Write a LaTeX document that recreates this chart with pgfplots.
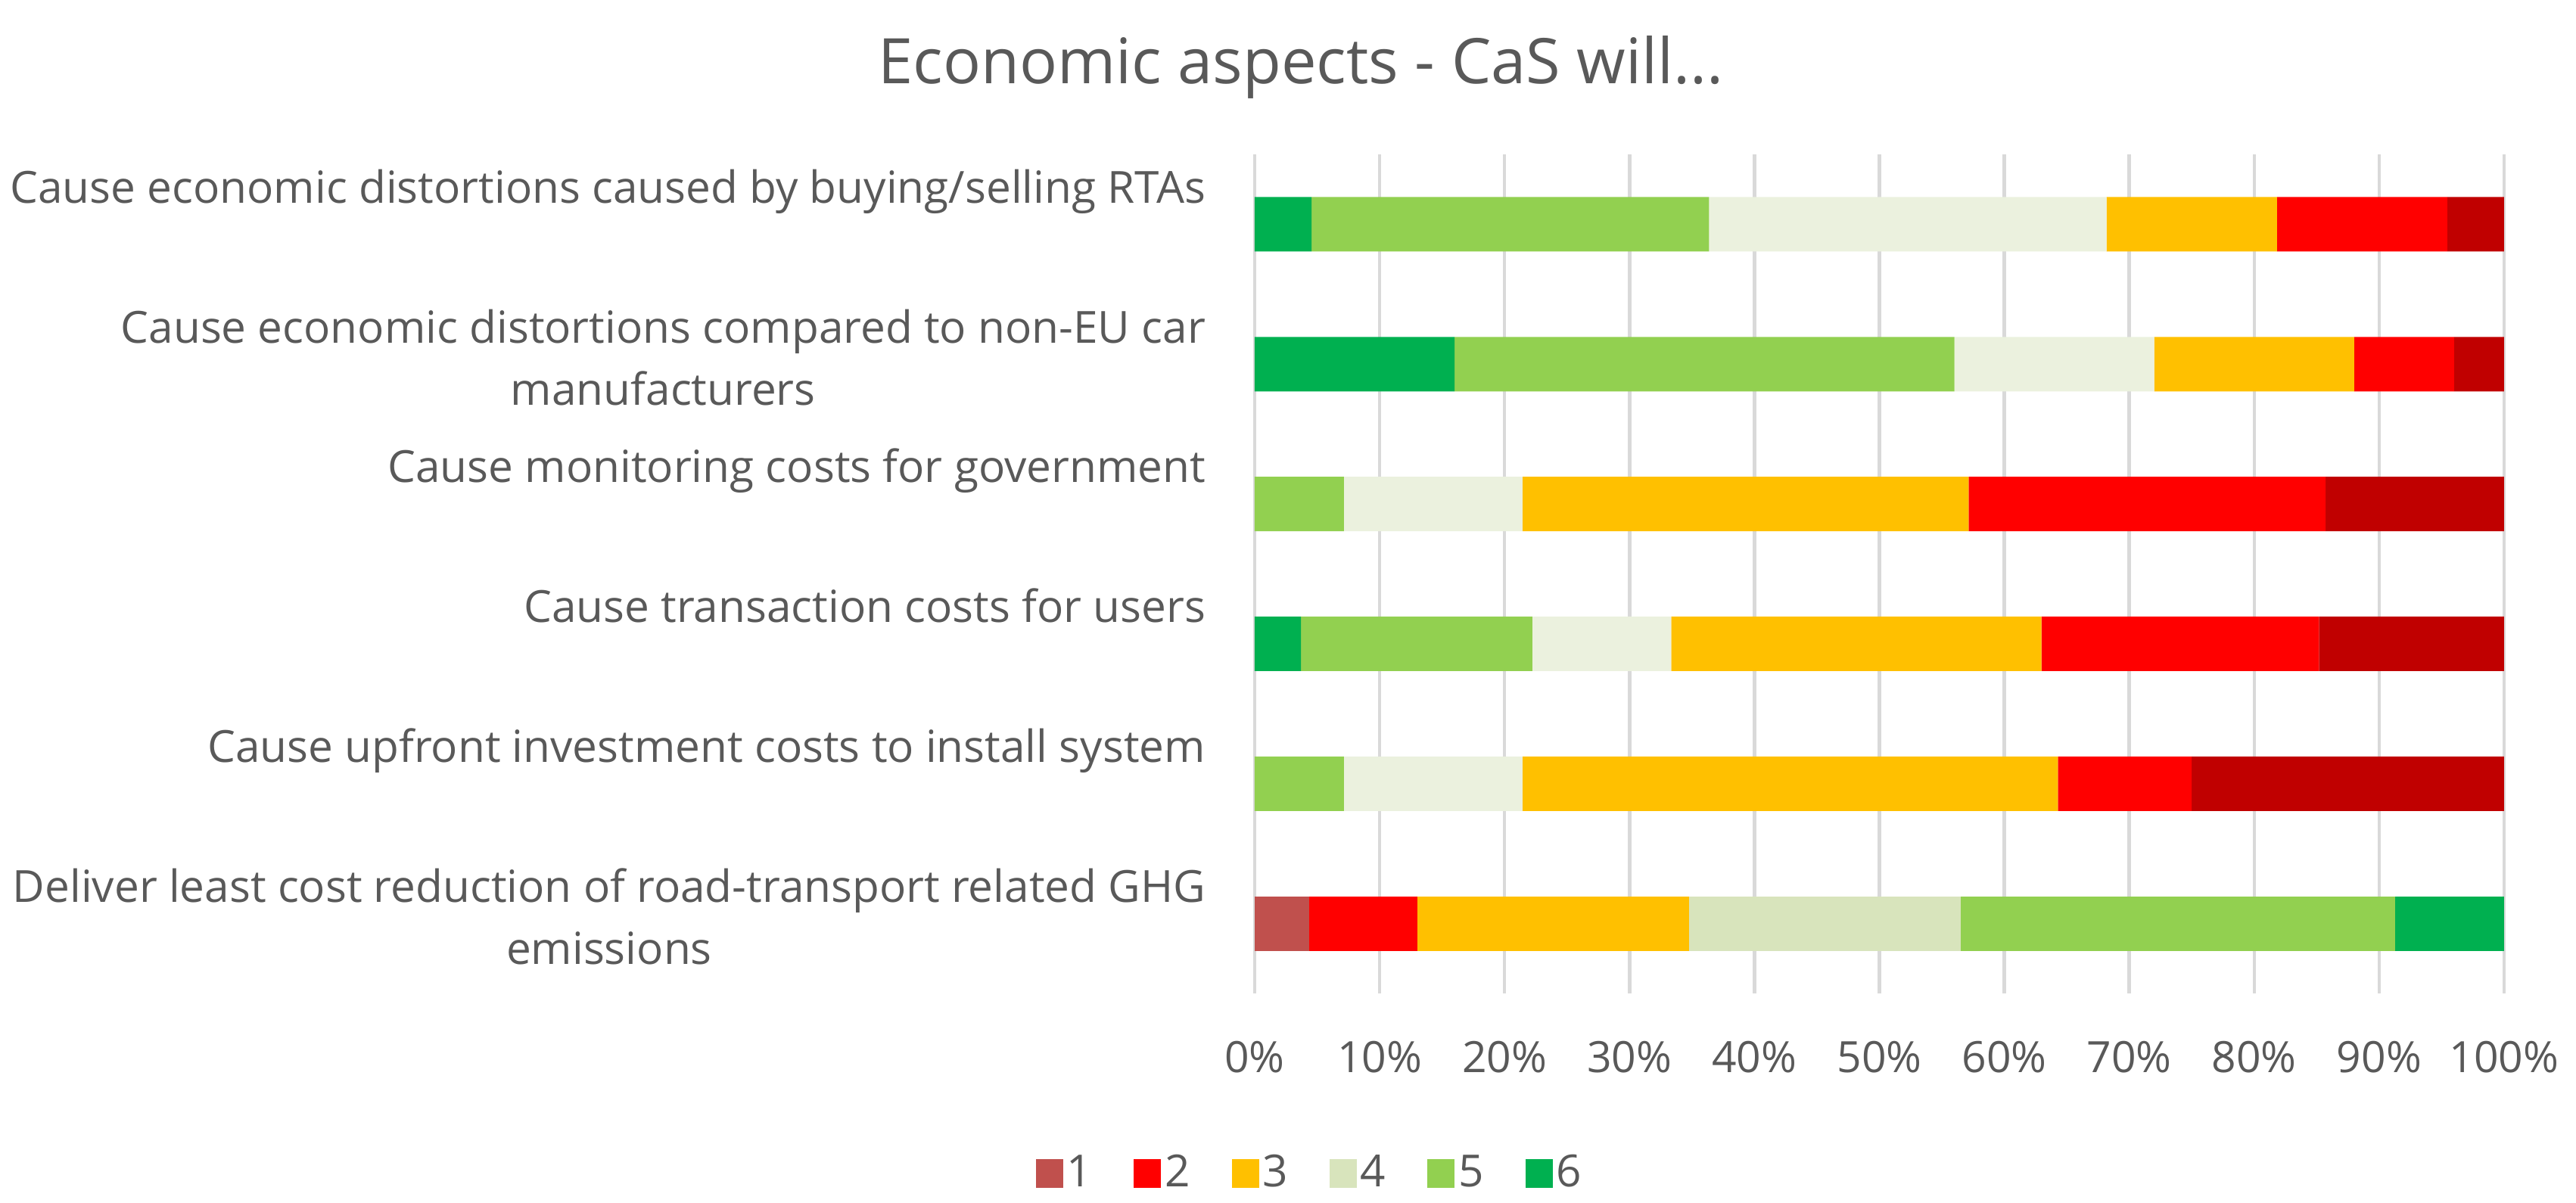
\documentclass[border=0pt]{standalone}
\usepackage{pgfplots}
\pgfplotsset{compat=1.18}
\usepackage{fontspec}
\setmainfont{Open Sans}
\definecolor{txt}{HTML}{595959}
\definecolor{gridc}{HTML}{D9D9D9}
\definecolor{cdg}{HTML}{00B050}
\definecolor{clg}{HTML}{92D050}
\definecolor{cpale}{HTML}{EBF1DE}
\definecolor{cpaleb}{HTML}{D8E4BC}
\definecolor{cor}{HTML}{FFC000}
\definecolor{cred}{HTML}{FF0000}
\definecolor{cdr}{HTML}{C00000}
\definecolor{cbr}{HTML}{C0504D}
\begin{document}
\begin{tikzpicture}
\path[use as bounding box] (0,0) rectangle (680.8pt,318pt);
\node[anchor=base, text=txt, font={\fontsize{16.6}{20}\selectfont}, inner sep=0pt] at (343.8pt,295.9pt) {Economic aspects - CaS will...};
\begin{axis}[
  at={(331.6pt,55.4pt)}, anchor=south west,
  scale only axis, width=330.2pt, height=221.8pt,
  xbar stacked, bar width=14.4pt,
  xmin=0, xmax=100, ymin=-0.5, ymax=5.5, y dir=reverse,
  xtick={0,10,...,100},
  xticklabels={0\%,10\%,20\%,30\%,40\%,50\%,60\%,70\%,80\%,90\%,100\%},
  ytick={0,1,2,3,4,5},
  yticklabels={
    {\strut Cause economic distortions caused by buying/selling RTAs\\\strut},
    {\strut Cause economic distortions compared to non-EU car\\\strut manufacturers},
    {\strut Cause monitoring costs for government\\\strut},
    {\strut Cause transaction costs for users\\\strut},
    {\strut Cause upfront investment costs to install system\\\strut},
    {\strut Deliver least cost reduction of road-transport related GHG\\\strut emissions}},
  yticklabel style={align=center, anchor=east, inner sep=0pt, xshift=-12.8pt, yshift=0.7pt,
    font={\fontsize{11.7}{16.4}\selectfont}, text=txt},
  xticklabel style={anchor=north, inner sep=0pt, yshift=-12.4pt,
    font={\fontsize{11.4}{13}\selectfont}, text=txt},
  axis line style={draw=none},
  major tick length=0pt,
  xmajorgrids, ymajorgrids=false,
  grid style={gridc, line width=0.9pt},
  every axis plot/.append style={draw=none},
  legend columns=6,
  legend style={at={(0.0448,-0.2146)}, anchor=center, draw=none, fill=none,
    font={\fontsize{11.7}{13}\selectfont}, text=txt,
    /tikz/every even column/.append style={column sep=10pt},
    nodes={inner sep=1pt}},
  legend image code/.code={\fill (0pt,-3.8pt) rectangle (7.2pt,3.8pt);},
]
% bars 0-4, positions left to right (values 6,5,4,3,2,1)
\addplot[fill=cdg, forget plot] coordinates {(4.545,0) (16,1) (0,2) (3.704,3) (0,4) (0,5)};
\addplot[fill=clg, forget plot] coordinates {(31.818,0) (40,1) (7.143,2) (18.519,3) (7.143,4) (0,5)};
\addplot[fill=cpale, forget plot] coordinates {(31.818,0) (16,1) (14.286,2) (11.111,3) (14.286,4) (0,5)};
\addplot[fill=cor, forget plot] coordinates {(13.636,0) (16,1) (35.714,2) (29.630,3) (42.857,4) (0,5)};
\addplot[fill=cred, forget plot] coordinates {(13.636,0) (8,1) (28.571,2) (22.222,3) (10.714,4) (0,5)};
\addplot[fill=cdr, forget plot] coordinates {(4.545,0) (4,1) (14.286,2) (14.815,3) (25,4) (0,5)};
% bar 5, positions left to right (values 1..6)
\addplot[fill=cbr] coordinates {(0,0) (0,1) (0,2) (0,3) (0,4) (4.348,5)};
\addlegendentry{1}
\addplot[fill=cred] coordinates {(0,0) (0,1) (0,2) (0,3) (0,4) (8.696,5)};
\addlegendentry{2}
\addplot[fill=cor] coordinates {(0,0) (0,1) (0,2) (0,3) (0,4) (21.739,5)};
\addlegendentry{3}
\addplot[fill=cpaleb] coordinates {(0,0) (0,1) (0,2) (0,3) (0,4) (21.739,5)};
\addlegendentry{4}
\addplot[fill=clg] coordinates {(0,0) (0,1) (0,2) (0,3) (0,4) (34.783,5)};
\addlegendentry{5}
\addplot[fill=cdg] coordinates {(0,0) (0,1) (0,2) (0,3) (0,4) (8.696,5)};
\addlegendentry{6}
\end{axis}
\end{tikzpicture}
\end{document}
